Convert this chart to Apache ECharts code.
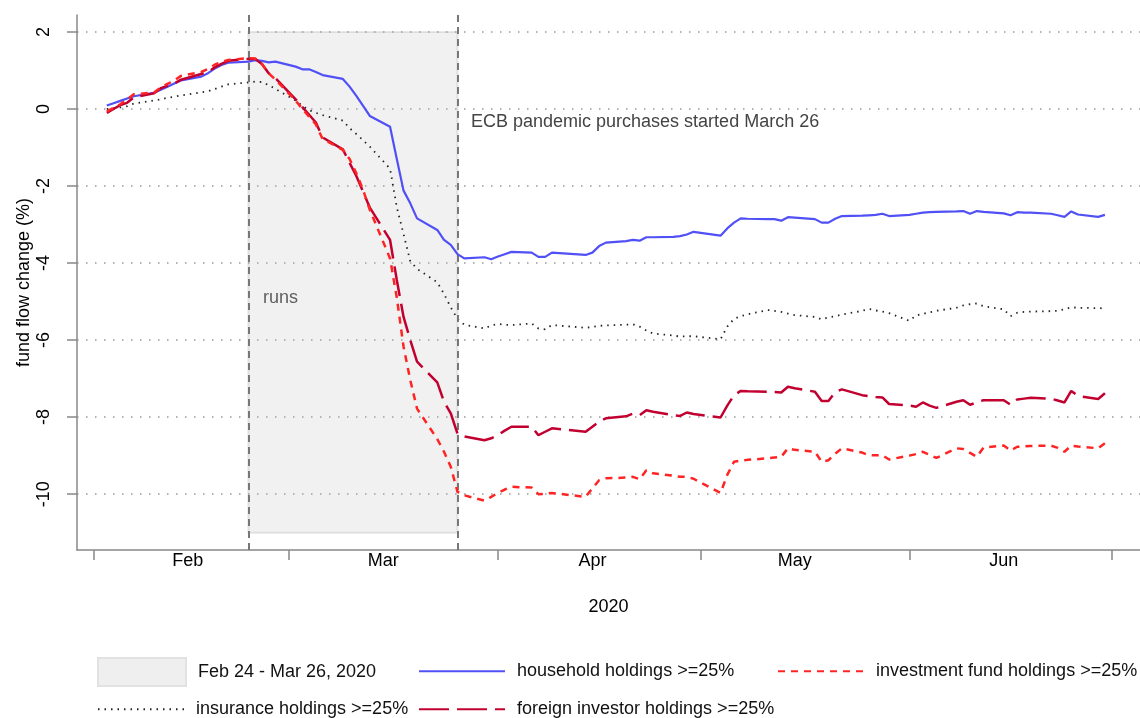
<!DOCTYPE html>
<html lang="en">
<head>
<meta charset="UTF-8">
<title>fund flows 2020</title>
<style>
  html, body { margin: 0; padding: 0; background: #fff; }
  #main { width: 1140px; height: 718px; }
</style>
</head>
<body>
<div id="main"></div>
<script src="https://cdn.jsdelivr.net/npm/echarts@6/dist/echarts.min.js"></script>
<script type="text/javascript">
// business days in 2020 (MM-DD)
var days = [
  '02-03','02-04','02-05','02-06','02-07','02-10','02-11','02-12','02-13','02-14',
  '02-17','02-18','02-19','02-20','02-21','02-24','02-25','02-26','02-27','02-28',
  '03-02','03-03','03-04','03-05','03-06','03-09','03-10','03-11','03-12','03-13',
  '03-16','03-17','03-18','03-19','03-20','03-23','03-24','03-25','03-26','03-27',
  '03-30','03-31',
  '04-01','04-02','04-03','04-06','04-07','04-08','04-09','04-14','04-15','04-16','04-17',
  '04-20','04-21','04-22','04-23','04-24','04-27','04-28','04-29','04-30',
  '05-04','05-05','05-06','05-07','05-08','05-11','05-12','05-13','05-14','05-15',
  '05-18','05-19','05-20','05-21','05-22','05-25','05-26','05-27','05-28','05-29',
  '06-01','06-02','06-03','06-04','06-05','06-08','06-09','06-10','06-11','06-12',
  '06-15','06-16','06-17','06-18','06-19','06-22','06-23','06-24','06-25','06-26',
  '06-29','06-30'
];

var household = [
  0.09, 0.15, 0.21, 0.27, 0.33, 0.42, 0.50, 0.58, 0.66, 0.74,
  0.84, 0.93, 1.05, 1.14, 1.20, 1.23, 1.27, 1.25, 1.21, 1.23,
  1.10, 1.03, 1.03, 0.96, 0.88, 0.78, 0.58, 0.34, 0.08, -0.18,
  -0.46, -1.30, -2.12, -2.45, -2.84, -3.14, -3.40, -3.53, -3.77, -3.88,
  -3.85, -3.90,
  -3.83, -3.77, -3.71, -3.73, -3.84, -3.84, -3.73, -3.79, -3.73, -3.56, -3.47,
  -3.43, -3.40, -3.42, -3.33, -3.33, -3.32, -3.30, -3.26, -3.19,
  -3.29, -3.10, -2.95, -2.84, -2.85, -2.86, -2.86, -2.90, -2.81, -2.82,
  -2.86, -2.95, -2.95, -2.85, -2.78, -2.77, -2.76, -2.75, -2.72, -2.78,
  -2.75, -2.72, -2.69, -2.68, -2.67, -2.66, -2.65, -2.72, -2.65, -2.67,
  -2.71, -2.76, -2.68, -2.69, -2.69, -2.72, -2.76, -2.80, -2.66, -2.74,
  -2.80, -2.75
];

var investmentFund = [
  -0.06, 0.03, 0.12, 0.25, 0.38, 0.43, 0.56, 0.65, 0.74, 0.86,
  0.96, 1.04, 1.15, 1.22, 1.27, 1.32, 1.31, 1.17, 0.93, 0.76,
  0.22, 0.00, -0.20, -0.40, -0.78, -1.06, -1.30, -1.67, -2.10, -2.62,
  -3.88, -4.90, -6.17, -7.04, -7.78, -8.57, -8.90, -9.29, -9.94, -10.03,
  -10.17, -10.07,
  -9.97, -9.88, -9.81, -9.83, -10.00, -9.99, -9.97, -10.07, -9.85, -9.64, -9.59,
  -9.57, -9.55, -9.61, -9.38, -9.46, -9.52, -9.55, -9.55, -9.60,
  -9.97, -9.50, -9.16, -9.13, -9.11, -9.07, -9.05, -9.03, -8.81, -8.85,
  -8.90, -9.16, -9.12, -8.95, -8.81, -8.92, -8.99, -8.99, -8.99, -9.10,
  -9.00, -8.96, -8.90, -8.98, -9.06, -8.81, -8.83, -8.93, -9.03, -8.79,
  -8.74, -8.87, -8.77, -8.76, -8.75, -8.74, -8.80, -8.90, -8.74, -8.76,
  -8.81, -8.68
];

var insurance = [
  0.00, 0.02, 0.04, 0.07, 0.14, 0.22, 0.25, 0.29, 0.32, 0.35,
  0.43, 0.46, 0.52, 0.58, 0.64, 0.69, 0.71, 0.70, 0.62, 0.52,
  0.22, 0.08, -0.03, -0.10, -0.16, -0.30, -0.50, -0.65, -0.81, -0.98,
  -1.55, -2.55, -3.25, -3.95, -4.15, -4.50, -4.80, -5.15, -5.45, -5.60,
  -5.70, -5.62,
  -5.58, -5.60, -5.61, -5.57, -5.70, -5.72, -5.61, -5.68, -5.66, -5.63, -5.62,
  -5.60, -5.59, -5.65, -5.75, -5.83, -5.88, -5.91, -5.90, -5.90,
  -5.98, -5.65, -5.45, -5.38, -5.33, -5.22, -5.24, -5.27, -5.31, -5.35,
  -5.40, -5.46, -5.41, -5.38, -5.34, -5.24, -5.19, -5.23, -5.26, -5.30,
  -5.50, -5.36, -5.32, -5.28, -5.24, -5.16, -5.10, -5.07, -5.05, -5.12,
  -5.20, -5.38, -5.29, -5.27, -5.26, -5.25, -5.24, -5.20, -5.15, -5.16,
  -5.17, -5.18
];

var foreignInvestor = [
  -0.10, 0.00, 0.10, 0.16, 0.30, 0.41, 0.54, 0.60, 0.66, 0.76,
  0.91, 0.96, 1.08, 1.17, 1.25, 1.30, 1.30, 1.17, 0.93, 0.80,
  0.25, 0.05, -0.15, -0.35, -0.74, -1.05, -1.40, -1.74, -2.15, -2.56,
  -3.40, -4.44, -5.40, -6.00, -6.56, -7.10, -7.60, -7.90, -8.43, -8.50,
  -8.60, -8.55,
  -8.47, -8.35, -8.25, -8.25, -8.47, -8.38, -8.29, -8.38, -8.25, -8.12, -8.03,
  -7.98, -7.91, -7.95, -7.82, -7.86, -7.95, -7.97, -7.88, -7.92,
  -8.01, -7.70, -7.43, -7.32, -7.33, -7.34, -7.35, -7.36, -7.21, -7.25,
  -7.34, -7.58, -7.58, -7.35, -7.28, -7.43, -7.46, -7.48, -7.49, -7.66,
  -7.70, -7.73, -7.62, -7.70, -7.76, -7.60, -7.56, -7.68, -7.62, -7.56,
  -7.56, -7.68, -7.54, -7.52, -7.50, -7.52, -7.57, -7.62, -7.32, -7.45,
  -7.53, -7.38
];

var yTicks = [-10, -8, -6, -4, -2, 0, 2];
var monthStarts = ['02-01', '03-01', '04-01', '05-01', '06-01', '07-01'];
var monthMids = ['02-15', '03-15', '04-15', '05-15', '06-15'];
var monthNames = ['Feb', 'Mar', 'Apr', 'May', 'Jun'];
var runsStart = '02-24';
var runsEnd = '03-26';
var runsName = 'Feb 24 - Mar 26, 2020';

var FONT = "'Liberation Sans', Arial, sans-serif";
var FS = 18;

// days counted from 1 Feb 2020
function dayNum(md) {
    var p = md.split('-');
    return Math.round((Date.UTC(2020, +p[0] - 1, +p[1]) - Date.UTC(2020, 1, 1)) / 86400000);
}

function pairs(vals) {
    return days.map(function (d, i) { return [dayNum(d), vals[i]]; });
}

var midNums = monthMids.map(dayNum);

function legendAt(name, left, top, opts) {
    var lg = {
        data: [name],
        left: left,
        top: top,
        padding: 0,
        orient: 'horizontal',
        selectedMode: false,
        itemWidth: 86,
        itemHeight: 28,
        // hide the round marker ECharts puts on line legend icons
        itemStyle: { color: 'rgba(0,0,0,0)', borderColor: 'rgba(0,0,0,0)', borderWidth: 0 },
        textStyle: { fontFamily: FONT, fontSize: FS, color: '#111', padding: [0, 0, 0, 7] }
    };
    if (opts) {
        for (var k in opts) lg[k] = opts[k];
    }
    return lg;
}

var myChart = echarts.init(document.getElementById('main'));

var option = {
    backgroundColor: '#fff',
    animation: false,
    grid: { left: 77, right: 0, top: 15, bottom: 168 },
    xAxis: {
        type: 'value',
        min: -2.42,
        max: 155.2,
        name: '2020',
        nameLocation: 'middle',
        nameGap: 48,
        nameMoveOverlap: false,
        nameTextStyle: { fontFamily: FONT, fontSize: FS, color: '#000' },
        axisLine: { onZero: false, lineStyle: { color: '#888', width: 1.5 } },
        axisTick: { customValues: monthStarts.map(dayNum), length: 10, lineStyle: { color: '#888', width: 1.5 } },
        axisLabel: {
            customValues: midNums,
            margin: 2,
            fontFamily: FONT,
            fontSize: FS,
            color: '#000',
            formatter: function (v) { return monthNames[midNums.indexOf(Math.round(v))] || ''; }
        },
        splitLine: { show: false }
    },
    yAxis: {
        type: 'value',
        min: -11.45,
        max: 2.44,
        name: 'fund flow change (%)',
        nameLocation: 'middle',
        nameGap: 44,
        nameMoveOverlap: false,
        nameTextStyle: { fontFamily: FONT, fontSize: FS, color: '#000' },
        axisLine: { show: true, onZero: false, lineStyle: { color: '#888', width: 1.5 } },
        axisTick: { show: true, customValues: yTicks, length: 10, lineStyle: { color: '#888', width: 1.5 } },
        axisLabel: {
            customValues: yTicks,
            rotate: 90,
            margin: 24,
            fontFamily: FONT,
            fontSize: FS,
            color: '#000'
        },
        splitLine: { show: true, lineStyle: { color: '#999', width: 1.5, type: [1.5, 7.5] } }
    },
    legend: [
        legendAt(runsName, 97, 657, {
            itemWidth: 88, icon: 'rect',
            itemStyle: { color: '#efefef', borderColor: '#e2e2e2', borderWidth: 2 }
        }),
        legendAt('household holdings >=25%', 418, 660),
        legendAt('investment fund holdings >=25%', 777, 660),
        legendAt('insurance holdings >=25%', 97, 698),
        legendAt('foreign investor holdings >=25%', 418, 698)
    ],
    graphic: [
        { type: 'text', left: 263, top: 289, style: { text: 'runs', fontFamily: FONT, fontSize: FS, fill: '#444' } },
        { type: 'text', left: 471, top: 113, style: { text: 'ECB pandemic purchases started March 26', fontFamily: FONT, fontSize: FS, fill: '#444' } }
    ],
    series: [
        {
            name: runsName,
            type: 'line',
            data: [],
            itemStyle: { color: '#efefef' },
            markArea: {
                silent: true,
                itemStyle: { color: 'rgba(190,190,190,0.22)', borderColor: 'rgba(160,160,160,0.25)', borderWidth: 2 },
                data: [[{ xAxis: dayNum(runsStart), yAxis: 2 }, { xAxis: dayNum(runsEnd), yAxis: -11 }]]
            },
            markLine: {
                silent: true,
                symbol: ['none', 'none'],
                label: { show: false },
                lineStyle: { color: '#777', width: 2, type: [7, 5] },
                data: [{ xAxis: dayNum(runsStart) }, { xAxis: dayNum(runsEnd) }]
            }
        },
        {
            name: 'household holdings >=25%',
            type: 'line',
            symbol: 'none',
            data: pairs(household),
            lineStyle: { color: '#5050f6', width: 2.2 },
            itemStyle: { color: '#5050f6' },
            z: 5
        },
        {
            name: 'insurance holdings >=25%',
            type: 'line',
            symbol: 'none',
            data: pairs(insurance),
            lineStyle: { color: '#222', width: 1.8, type: [1.5, 5] },
            itemStyle: { color: '#222' },
            z: 4
        },
        {
            name: 'foreign investor holdings >=25%',
            type: 'line',
            symbol: 'none',
            data: pairs(foreignInvestor),
            lineStyle: { color: '#c20030', width: 2.5, type: [30, 8] },
            itemStyle: { color: '#c20030' },
            z: 5
        },
        {
            name: 'investment fund holdings >=25%',
            type: 'line',
            symbol: 'none',
            data: pairs(investmentFund),
            lineStyle: { color: '#ff2424', width: 2.5, type: [7, 6] },
            itemStyle: { color: '#ff2424' },
            z: 6
        }
    ]
};

myChart.setOption(option);
window.addEventListener('resize', function () {
    myChart.resize();
});
</script>
</body>
</html>
